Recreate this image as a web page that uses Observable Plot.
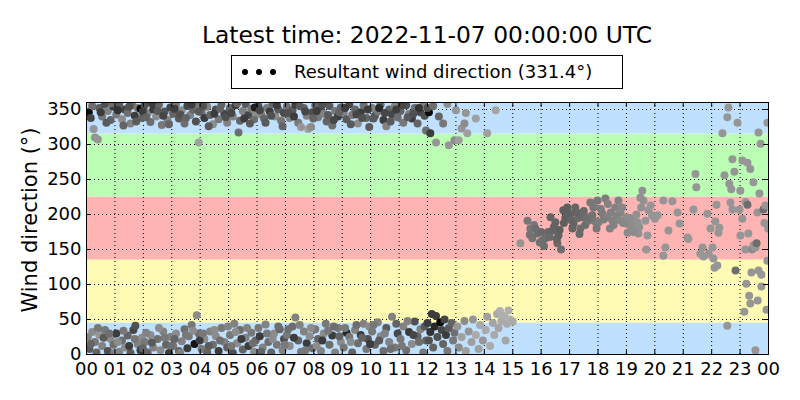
<!DOCTYPE html>
<html><head><meta charset="utf-8">
<script src="https://cdn.jsdelivr.net/npm/d3@7"></script>
<script src="https://cdn.jsdelivr.net/npm/@observablehq/plot@0.6"></script>
<style>
body{margin:0;background:#fff;font-family:"DejaVu Sans",sans-serif;}
#wrap{position:relative;width:800px;height:400px;overflow:hidden;}
#title{position:absolute;left:27px;top:21px;width:800px;text-align:center;font-size:23.4px;line-height:28px;color:#000;}
#legend{position:absolute;left:231px;top:55px;width:390px;height:32px;border:1px solid #000;background:#fff;font-size:18px;line-height:32px;}
#legend .lbl{position:absolute;left:62px;top:0;}
#legend .d{position:absolute;top:16px;width:6px;height:6px;border-radius:50%;background:#000;margin-top:-3px;}
#ylab{position:absolute;left:30px;top:220px;transform:translate(-50%,-50%) rotate(-90deg);font-size:21px;white-space:nowrap;}
#chart{position:absolute;left:0;top:0;}
</style></head>
<body><div id="wrap">
<div id="chart"></div>
<div id="title">Latest time: 2022-11-07 00:00:00 UTC</div>
<div id="legend"><span class="d" style="left:10px"></span><span class="d" style="left:24px"></span><span class="d" style="left:38px"></span><span class="lbl">Resultant wind direction (331.4°)</span></div>
<div id="ylab">Wind direction (°)</div>
</div>
<script>
// sector bands (degrees)
const bandLo = [0, 45, 135, 225, 315];
const bandHi = [45, 135, 225, 315, 360];
const bandColor = ["#bfe0ff", "#fffbb4", "#ffb4b4", "#bbffb4", "#bfe0ff"];
// tick values
const hourTicks = d3.range(0, 25);
const dirTicks = [0, 50, 100, 150, 200, 250, 300, 350];

// observations: [hour, direction°, grey level]
const nightTop = [
[0.08,346,15],[0.2,355,110],[0.25,322,150],[0.3,310,145],[0.4,307,150],[0.45,352,95],[0.55,340,120],[0.65,357,80],[0.75,348,130],[0.85,335,100],[0.95,354,60],
[1.05,343,120],[1.15,358,90],[1.25,336,140],[1.35,350,70],[1.45,345,110],[1.55,330,130],[1.6,356,100],[1.7,341,60],[1.8,352,120],[1.9,351,10],[1.95,338,100],
[2.05,356,80],[2.15,345,130],[2.25,332,110],[2.35,350,60],[2.45,340,140],[2.55,357,100],[2.65,328,120],[2.75,347,85],[2.85,335,130],[2.95,353,70],
[3.05,344,100],[3.15,358,120],[3.25,337,90],[3.35,349,140],[3.45,330,110],[3.55,355,70],[3.65,342,130],[3.75,350,100],[3.85,333,80],[3.95,303,160],[3.9,356,120],
[4.05,346,110],[4.15,338,60],[4.25,354,130],[4.35,342,100],[4.45,329,140],[4.55,350,80],[4.65,336,120],[4.75,357,100],[4.85,344,70],[4.95,331,130],
[5.05,352,100],[5.15,340,130],[5.25,356,60],[5.35,317,110],[5.4,334,100],[5.5,348,130],[5.6,358,90],[5.7,342,70],[5.8,351,120],[5.9,336,110],[5.95,346,140],
[6.05,355,80],[6.15,343,130],[6.25,337,100],[6.35,352,120],[6.45,347,60],[6.55,358,100],[6.65,340,140],[6.75,350,90],[6.85,334,120],[6.95,345,75],
[7.05,354,110],[7.15,338,130],[7.25,349,90],[7.35,357,60],[7.45,331,120],[7.55,325,150],[7.65,352,100],[7.75,341,130],[7.8,322,160],[7.9,325,140],[7.95,346,80],
[8.05,356,100],[8.15,339,120],[8.25,350,70],[8.35,344,130],[8.45,333,100],[8.55,355,90],[8.65,327,110],[8.75,348,120],[8.85,340,60],[8.95,353,100],
[9.05,345,130],[9.15,336,90],[9.25,357,70],[9.35,342,120],[9.45,350,100],[9.55,330,140],[9.65,346,60],[9.75,356,110],[9.85,338,100],[9.95,325,90],
[10.05,352,130],[10.15,341,80],[10.25,347,120],[10.35,357,100],[10.45,335,60],[10.55,326,130],[10.65,350,100],[10.75,343,70],[10.85,355,130],[10.95,339,110],
[11.05,348,100],[11.15,331,120],[11.25,356,80],[11.35,344,130],[11.45,337,60],[11.55,352,110],[11.65,330,100],[11.75,346,70],[11.85,357,130],[11.95,320,110]
];
const nightTop2 = [
[0.15,338,70],[0.5,346,60],[0.7,331,90],[0.9,359,110],
[1.1,349,50],[1.3,327,100],[1.5,354,80],[1.75,333,90],[1.98,347,60],
[2.1,339,100],[2.3,359,60],[2.5,348,90],[2.7,341,70],[2.9,329,100],
[3.1,351,60],[3.3,343,80],[3.5,338,100],[3.7,357,60],[3.95,347,90],
[4.1,355,80],[4.3,326,90],[4.5,344,60],[4.7,351,100],[4.9,339,80],
[5.1,345,70],[5.3,359,100],[5.55,337,60],[5.75,330,90],[5.92,353,30],
[6.1,349,70],[6.3,331,90],[6.5,341,80],[6.7,356,60],[6.9,326,100],
[7.1,345,80],[7.3,340,60],[7.5,355,90],[7.7,347,70],[7.98,337,100],
[8.1,348,60],[8.3,357,80],[8.5,342,90],[8.7,335,70],[8.9,346,100],
[9.1,352,60],[9.3,329,90],[9.5,343,70],[9.7,338,80],[9.9,350,60],
[10.1,337,90],[10.3,352,40],[10.5,345,70],[10.7,333,90],[10.9,350,60],
[11.1,356,70],[11.3,339,90],[11.5,344,80],[11.7,352,50],[11.9,341,80]
];
const nightBottom = [
[0.05,25,130],[0.1,8,90],[0.2,32,140],[0.3,18,120],[0.35,3,100],[0.45,28,150],[0.55,12,130],[0.65,35,120],[0.75,5,80],[0.85,22,140],[0.95,14,110],
[1.05,30,60],[1.15,4,130],[1.25,20,110],[1.35,10,140],[1.45,27,100],[1.55,2,90],[1.65,35,70],[1.72,41,80],[1.8,15,130],[1.9,6,60],[1.95,24,140],
[2.05,18,120],[2.15,3,100],[2.25,28,140],[2.35,10,130],[2.5,22,110],[2.6,6,140],[2.7,33,130],[2.8,14,100],[2.9,2,60],[2.95,25,130],
[3.05,12,120],[3.15,30,140],[3.25,5,100],[3.35,19,130],[3.45,36,110],[3.55,9,60],[3.6,26,120],[3.7,42,120],[3.8,15,20],[3.88,56,140],[3.95,30,110],
[4.05,8,120],[4.15,22,140],[4.25,3,100],[4.35,33,130],[4.45,14,110],[4.55,26,140],[4.65,5,60],[4.75,38,120],[4.85,18,130],[4.95,10,100],
[5.05,28,120],[5.15,2,80],[5.2,44,130],[5.3,16,140],[5.4,35,110],[5.5,7,100],[5.6,24,130],[5.7,12,60],[5.8,31,120],[5.9,4,140],[5.95,20,100],
[6.05,38,120],[6.1,26,60],[6.2,10,130],[6.3,43,130],[6.4,18,110],[6.5,3,100],[6.6,30,140],[6.7,14,120],[6.8,36,100],[6.9,6,130],[6.95,22,80],
[7.05,28,120],[7.15,12,140],[7.25,40,110],[7.35,53,130],[7.45,20,100],[7.55,4,120],[7.65,33,130],[7.75,16,60],[7.85,26,140],[7.95,9,110],
[8.05,36,120],[8.15,22,100],[8.25,5,130],[8.35,30,140],[8.42,44,120],[8.55,14,110],[8.65,27,60],[8.75,3,130],[8.85,38,120],[8.95,18,140],
[9.05,10,120],[9.15,31,40],[9.25,25,120],[9.35,3,100],[9.45,35,130],[9.55,16,110],[9.65,28,60],[9.75,44,130],[9.85,8,120],[9.95,40,140],[9.9,22,80],
[10.05,33,120],[10.15,14,100],[10.25,46,130],[10.35,26,140],[10.45,5,110],[10.55,38,90],[10.65,18,130],[10.75,54,130],[10.85,10,120],[10.95,30,70],
[11.05,22,120],[11.15,40,130],[11.25,6,110],[11.35,32,60],[11.45,15,140],[11.55,47,80],[11.65,26,100],[11.75,36,130],[11.85,3,120],[11.95,20,100]
];
const nightBottom2 = [
[0.15,15,100],[0.4,38,120],[0.6,24,90],[0.8,30,110],[0.98,2,130],
[1.1,18,140],[1.3,34,120],[1.5,12,60],[1.7,22,120],[1.98,9,100],
[2.1,31,130],[2.3,17,90],[2.55,38,140],[2.75,24,120],[2.98,12,110],
[3.1,22,100],[3.3,2,130],[3.5,28,120],[3.75,34,140],[3.98,20,60],
[4.1,30,120],[4.3,12,90],[4.5,35,140],[4.7,20,110],[4.98,40,130],
[5.1,12,120],[5.25,32,140],[5.45,22,60],[5.65,38,130],[5.85,16,110],
[6.15,4,100],[6.35,30,120],[6.55,22,140],[6.75,40,110],[6.98,14,120],
[7.1,36,110],[7.3,24,60],[7.5,42,130],[7.7,6,120],[7.9,38,140],
[8.1,12,140],[8.3,20,60],[8.5,34,120],[8.7,40,110],[8.9,26,100],
[9.1,38,120],[9.3,18,140],[9.5,42,110],[9.7,24,100],[9.98,15,60],
[10.1,42,120],[10.3,20,90],[10.5,30,130],[10.7,8,110],[10.9,44,100],
[11.1,12,120],[11.3,48,130],[11.5,28,70],[11.7,18,110],[11.9,40,90]
];
const noonTop = [
[12.05,346,10],[12.0,352,80],[12.1,316,60],[12.2,355,110],[12.3,303,150],[12.4,340,100],[12.55,330,120],[12.7,358,140],[12.75,299,150],[12.95,306,140],
[13.0,349,150],[13.1,306,160],[13.2,323,150],[13.3,330,140],[13.4,316,160],[13.35,345,150],[13.7,337,160],[14.1,316,160],[14.4,349,165]
];
const noonBottom = [
[12.0,45,60],[12.05,20,80],[12.1,32,50],[12.15,58,60],[12.2,10,100],[12.25,40,40],[12.3,55,60],[12.35,25,80],[12.45,46,5],[12.5,35,70],[12.55,15,100],[12.6,50,70],
[12.65,28,60],[12.7,5,120],[12.75,38,90],[12.85,45,100],[12.9,20,120],[12.95,31,110],
[13.05,40,150],[13.1,10,140],[13.2,25,160],[13.3,48,140],[13.35,5,160],[13.45,33,150],[13.55,18,160],[13.6,50,150],[13.7,28,170],[13.8,8,160],[13.85,42,170],
[13.95,20,150],[14.05,35,170],[14.1,54,160],[14.2,12,170],[14.3,45,165],[14.35,28,170],[14.45,58,170],[14.5,38,165],[14.55,62,175],[14.6,48,170],[14.7,55,175],
[14.75,20,165],[14.8,44,170],[14.9,50,175],[14.85,63,175],[15.0,47,170]
];
const evening = [
[15.27,159,150],[15.52,191,120],[15.62,180,120],[15.69,166,115],[15.75,185,120],[15.87,173,110],[15.95,160,115],[16.04,163,110],[16.15,166,110],[16.25,175,105],
[16.33,196,100],[16.4,177,100],[16.5,189,100],[16.57,159,105],[16.61,170,100],[16.7,150,110],[16.78,206,95],[16.85,195,95],[16.92,210,95],[17.03,201,100],
[17.1,180,100],[17.14,187,100],[17.2,210,100],[17.3,195,105],[17.38,180,110],[17.45,196,105],[17.55,185,110],[17.66,191,115],[17.73,217,120],[17.84,210,120],
[17.9,190,120],[17.98,220,120],[18.02,189,125],[18.16,201,125],[18.26,223,125],[18.33,196,130],[18.42,180,130],[18.51,191,130],[18.61,210,130],[18.72,220,130],
[18.79,203,135],[18.88,188,135],[18.97,187,135],[19.04,174,140],[19.12,195,140],[19.21,191,140],[19.3,185,140],[19.39,189,145],[19.42,173,145],[19.49,224,145],
[19.56,234,145],[19.52,210,145],[19.6,220,145],[19.67,191,150],[19.7,150,150],[19.74,170,150],[19.78,206,150],[19.85,213,150],[19.9,199,150],[20.0,194,150],
[20.1,199,150],[20.3,141,150],[20.37,153,150],[20.3,220,150],[20.48,177,150],[20.62,219,150],[20.8,203,150],[20.87,187,150],
[15.6,171,115],[15.8,180,110],[16.0,175,105],[16.1,155,110],[16.3,168,105],[16.45,182,100],[16.55,165,100],[16.65,178,95],[16.8,188,95],[16.95,199,95],
[17.05,192,100],[17.25,203,100],[17.35,172,105],[17.5,205,105],[17.6,196,110],[17.8,199,115],[17.95,180,120],[18.1,208,125],[18.2,193,125],[18.35,215,130],
[18.45,203,130],[18.55,185,130],[18.65,198,130],[18.75,192,135],[18.85,210,135],[19.0,196,140],[19.15,182,140],[19.25,175,140],[19.35,200,145],[19.45,182,145]
];
const late = [
[21.15,167,150],[21.18,165,150],[21.36,207,150],[21.43,258,150],[21.46,239,150],[21.6,144,150],[21.68,153,150],[21.71,140,150],[21.85,201,150],[21.89,144,150],
[21.96,180,150],[22.03,153,150],[22.06,137,150],[22.1,124,150],[22.13,190,150],[22.17,214,150],[22.2,127,150],[22.24,174,150],[22.27,181,150],[22.38,316,150],
[22.45,256,150],[22.55,339,150],[22.55,41,150],[22.59,353,150],[22.62,244,150],[22.66,217,150],[22.69,236,150],[22.73,279,150],[22.73,207,150],[22.8,261,150],
[22.84,120,110],[22.91,331,150],[22.98,207,150],[23.01,234,150],[23.01,170,150],[23.08,277,150],[23.08,194,150],[23.15,61,150],[23.19,218,150],[23.19,150,150],
[23.22,101,150],[23.26,274,150],[23.26,214,110],[23.29,173,150],[23.32,84,150],[23.36,265,150],[23.36,73,150],[23.4,117,150],[23.42,150,140],[23.47,246,150],
[23.47,156,150],[23.54,153,150],[23.54,6,150],[23.58,159,110],[23.61,203,150],[23.62,77,150],[23.65,317,150],[23.65,120,150],[23.68,230,150],[23.72,301,150],
[23.75,114,150],[23.75,97,150],[23.82,207,110],[23.86,188,150],[23.89,213,150],[23.93,64,150],[23.96,331,150],[23.96,134,150],[23.99,180,150]
];

const obs = [...nightTop, ...nightTop2, ...nightBottom, ...nightBottom2, ...noonTop, ...noonBottom, ...evening, ...late]
  .map(([h, dir, g]) => ({h, dir, g}));
const bands = bandLo.map((lo, i) => ({lo, hi: bandHi[i], c: bandColor[i]}));

const chart = Plot.plot({
  width: 800, height: 400,
  marginTop: 102, marginBottom: 46, marginLeft: 86, marginRight: 32,
  style: {fontFamily: "DejaVu Sans, sans-serif", fontSize: "18px", color: "#000", background: "transparent"},
  x: {domain: [0, 24], ticks: hourTicks, tickFormat: d => String(d % 24).padStart(2, "0"), tickSize: 0, tickPadding: 8, label: null},
  y: {domain: [0, 360], ticks: dirTicks, tickSize: 0, tickPadding: 5, label: null},
  color: {type: "identity"},
  marks: [
    Plot.rect(bands, {x1: 0, x2: 24, y1: "lo", y2: "hi", fill: "c"}),
    Plot.ruleX(hourTicks, {x: d => d, y1: 0, y2: 360, stroke: "#000", strokeWidth: 1, strokeDasharray: "1,3"}),
    Plot.ruleY(dirTicks, {y: d => d, x1: 0, x2: 24, stroke: "#000", strokeWidth: 1, strokeDasharray: "1,3"}),
    Plot.dot(obs, {x: "h", y: "dir", r: 4, fill: d => `rgb(${d.g},${d.g},${d.g})`, stroke: "none", clip: true}),
    Plot.ruleX(hourTicks, {x: d => d, y1: 0, y2: 7, stroke: "#000"}),
    Plot.ruleX(hourTicks, {x: d => d, y1: 353, y2: 360, stroke: "#000"}),
    Plot.ruleY(dirTicks, {y: d => d, x1: 0, x2: 0.17, stroke: "#000"}),
    Plot.ruleY(dirTicks, {y: d => d, x1: 23.83, x2: 24, stroke: "#000"}),
    Plot.frame({stroke: "#000", strokeWidth: 1})
  ]
});
document.getElementById("chart").appendChild(chart);
</script>
</body></html>
